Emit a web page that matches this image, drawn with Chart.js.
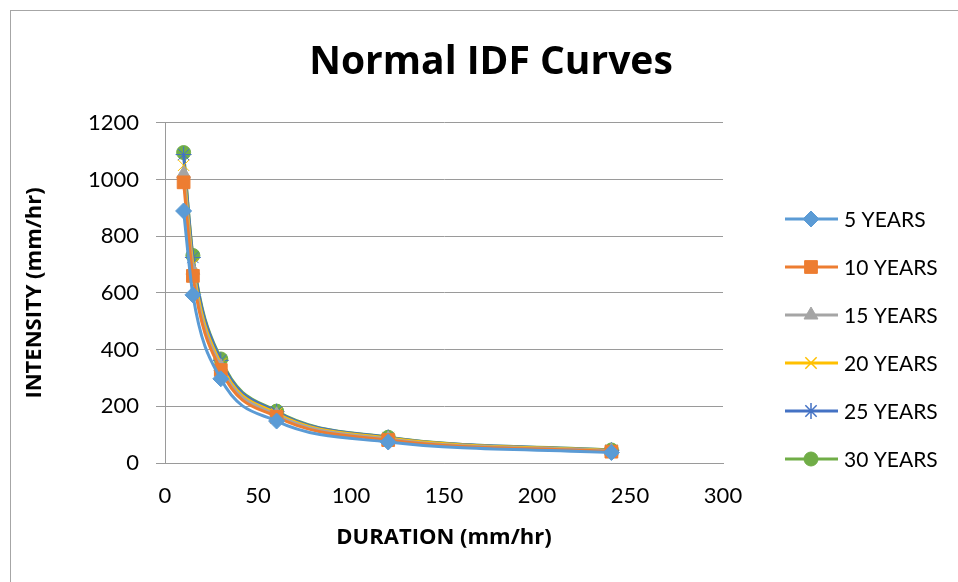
<!DOCTYPE html>
<html>
<head>
<meta charset="utf-8">
<script src="https://cdn.jsdelivr.net/npm/chart.js@4"></script>
<style>
  html, body { margin: 0; padding: 0; background: #fff; overflow: hidden; }
  #frame {
    position: absolute; left: 10px; top: 10px;
    width: 960px; height: 571px;
    border-left: 1px solid #a6a6a6; border-top: 1px solid #a6a6a6;
  }
  #myChart { display: block; }
</style>
</head>
<body>
<div id="frame"><canvas id="myChart" width="960" height="571"></canvas></div>
<script>
// durations (min) and intensities (mm/hr)
let durations = [10, 15, 30, 60, 120, 240];
let years5 = [889, 593, 297, 148, 74, 37];
let years10 = [990, 660, 328, 163, 81, 40];
let years15 = [1020, 680, 340, 170, 85, 42];
let years20 = [1050, 700, 350, 175, 88, 44];
let years25 = [1088, 725, 362, 181, 90, 45];
let years30 = [1095, 732, 367, 183, 91, 46];
let seriesNames = ["5 YEARS", "10 YEARS", "15 YEARS", "20 YEARS", "25 YEARS", "30 YEARS"];
let xTicks = [0, 50, 100, 150, 200, 250, 300];
let yTicks = [0, 200, 400, 600, 800, 1000, 1200];

let colors = ["#5B9BD5", "#ED7D31", "#A5A5A5", "#FFC000", "#4472C4", "#70AD47"];
let markers = ["rectRot", "rect", "triangle", "crossRot", "star", "circle"];
let radii = [8, 9, 8, 8, 8, 7];
let allSeries = [years5, years10, years15, years20, years25, years30];

let ctx = document.getElementById("myChart");
let font = "Lato, 'Open Sans', sans-serif";
let boldFont = "'Open Sans', Lato, sans-serif";

function makeDataset(i) {
  return {
    label: seriesNames[i],
    data: durations.map((d, k) => ({ x: d, y: allSeries[i][k] })),
    showLine: true,
    borderColor: colors[i],
    backgroundColor: colors[i],
    borderWidth: 3,
    cubicInterpolationMode: "monotone",
    pointStyle: markers[i],
    pointRadius: radii[i],
    pointBorderColor: colors[i],
    pointBackgroundColor: colors[i],
    pointBorderWidth: 1,
  };
}

// Excel-style legend: short line with the marker in the middle
const lineLegend = {
  id: "lineLegend",
  afterDraw(chart) {
    const c = chart.ctx;
    const area = chart.chartArea;
    const x0 = area.right + 62;
    const y0 = 208;
    const step = 48;
    chart.data.datasets.forEach((ds, i) => {
      const y = y0 + i * step;
      c.save();
      c.strokeStyle = ds.borderColor;
      c.lineWidth = 3;
      c.beginPath();
      c.moveTo(x0, y);
      c.lineTo(x0 + 53, y);
      c.stroke();
      c.fillStyle = ds.pointBackgroundColor;
      c.strokeStyle = ds.pointBorderColor;
      c.lineWidth = ds.pointStyle === "star" || ds.pointStyle === "crossRot" ? 1.5 : 1;
      Chart.helpers.drawPoint(c, { pointStyle: ds.pointStyle, radius: ds.pointRadius, rotation: 0, borderWidth: 1 }, x0 + 26, y);
      c.fillStyle = "#000";
      c.font = "21px " + font;
      c.textBaseline = "middle";
      c.textAlign = "left";
      c.fillText(ds.label, x0 + 59, y + 1);
      c.restore();
    });
  },
};

let myChart = new Chart(ctx, {
  type: "scatter",
  data: { datasets: allSeries.map((s, i) => makeDataset(i)) },
  options: {
    responsive: false,
    animation: false,
    layout: { padding: 0 },
    plugins: {
      legend: { display: false },
      tooltip: { enabled: false },
      title: {
        display: true,
        text: "Normal IDF Curves",
        color: "#000",
        font: { family: boldFont, size: 39, weight: "bold" },
        padding: { top: 28, bottom: 37 },
      },
    },
    scales: {
      x: {
        type: "linear",
        min: 0,
        max: 300,
        afterFit: (scale) => { scale.height = 119; },
        afterBuildTicks: (scale) => { scale.ticks = xTicks.map((v) => ({ value: v })); },
        ticks: { color: "#000", font: { family: font, size: 22 }, padding: 11 },
        grid: { display: false, drawOnChartArea: false, tickLength: 9, color: "#9a9a9a" },
        border: { color: "#9a9a9a", width: 1 },
        title: {
          display: true,
          text: "DURATION (mm/hr)",
          color: "#000",
          font: { family: boldFont, size: 22, weight: "bold" },
          padding: { top: 0, bottom: 31 },
        },
      },
      y: {
        min: 0,
        max: 1200,
        afterFit: (scale) => { scale.width = 154; },
        afterBuildTicks: (scale) => { scale.ticks = yTicks.map((v) => ({ value: v })); },
        ticks: {
          color: "#000",
          font: { family: font, size: 22 },
          padding: 17,
          callback: (v) => String(v),
        },
        grid: { color: "#9a9a9a", tickLength: 9, lineWidth: 1 },
        border: { color: "#9a9a9a", width: 1 },
        title: {
          display: true,
          text: "INTENSITY (mm/hr)",
          color: "#000",
          font: { family: boldFont, size: 22, weight: "bold" },
          padding: { top: 11, bottom: 0 },
        },
      },
      // empty axis that only reserves room on the right for the legend
      legendSpace: {
        type: "linear",
        position: "right",
        display: true,
        afterFit: (scale) => { scale.width = 248; },
        ticks: { display: false },
        grid: { display: false, drawTicks: false },
        border: { display: false },
      },
    },
  },
  plugins: [lineLegend],
});
</script>
</body>
</html>
